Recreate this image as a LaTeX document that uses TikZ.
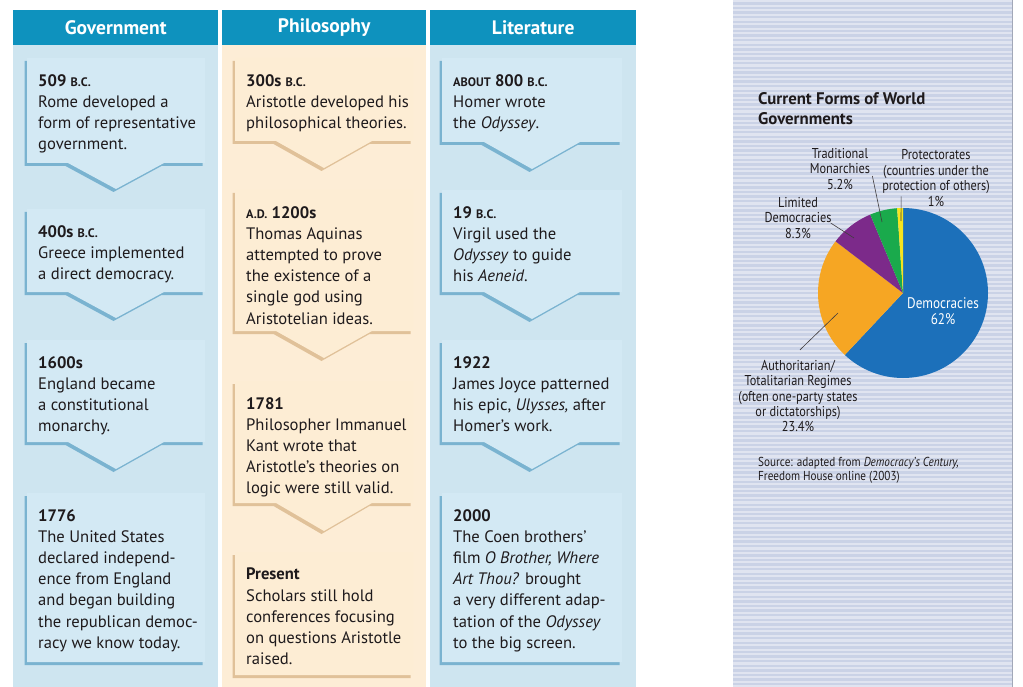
\documentclass[tikz,border=0pt]{standalone}
\usepackage{fontspec}
\setmainfont{PT Sans}
\newfontfamily\condfont[FakeStretch=0.86]{PT Sans}
\usetikzlibrary{shadows}

\definecolor{headblue}{RGB}{14,146,190}
\definecolor{govbg}{RGB}{206,229,240}
\definecolor{govbox}{RGB}{211,233,244}
\definecolor{govshade}{RGB}{40,130,178}
\definecolor{philbg}{RGB}{253,237,214}
\definecolor{philbox}{RGB}{253,237,212}
\definecolor{philshade}{RGB}{190,140,80}
\definecolor{inktext}{RGB}{30,26,28}
\definecolor{panelbg}{RGB}{202,210,230}
\definecolor{panelline}{RGB}{224,228,240}
\definecolor{demblue}{RGB}{28,112,186}
\definecolor{authorange}{RGB}{246,166,35}
\definecolor{limpurple}{RGB}{124,42,138}
\definecolor{tradgreen}{RGB}{26,170,76}
\definecolor{protyellow}{RGB}{245,228,30}

\tikzset{
  colhead/.style={fill=headblue, text=white, inner sep=0pt, font=\bfseries\fontsize{19.5}{22}\selectfont},
  govevent/.style={fill=govbox, drop shadow={shadow xshift=-2.5pt, shadow yshift=-3pt, fill=govshade, opacity=0.5}},
  philevent/.style={fill=philbox, drop shadow={shadow xshift=-2.5pt, shadow yshift=-3pt, fill=philshade, opacity=0.45}},
  eventtext/.style={anchor=north west, inner sep=0pt, align=left, text=inktext, font=\fontsize{16.6}{21.2}\selectfont},
  pielabel/.style={align=center, text=inktext, inner sep=0pt, font=\condfont\fontsize{14.3}{15.4}\selectfont},
  leader/.style={draw=inktext!85, line width=0.6pt}
}

% small capitals for B.C. / A.D. / ABOUT
\newcommand{\smcap}[1]{{\fontsize{12.3}{12}\selectfont #1}}

% event box with a notch pointing down: style, left, top, right, bottom, notch depth
\newcommand{\eventbox}[6]{%
  \pgfmathsetmacro{\midx}{(#2+#4)/2}
  \path[#1] (#2,#3) -- (#4,#3) -- (#4,#5) -- (\midx+48,#5) -- (\midx,#5+#6)
    -- (\midx-48,#5) -- (#2,#5) -- cycle;
}

\begin{document}
\begin{tikzpicture}[x=1pt,y=-1pt]
\useasboundingbox (0,0) rectangle (1023,687);

% Columns
\fill[govbg] (13,45) rectangle (218,687);
\fill[philbg] (222,45) rectangle (426,687);
\fill[govbg] (430,45) rectangle (636,687);

\node[colhead, minimum width=205pt, minimum height=35pt, anchor=north west] (hgov) at (13,10) {Government};
\node[colhead, minimum width=204pt, minimum height=35pt, anchor=north west] (hphil) at (222,10) {Philosophy};
\node[colhead, minimum width=206pt, minimum height=35pt, anchor=north west] (hlit) at (430,10) {Literature};

% Government
\eventbox{govevent}{27}{58}{205}{163}{26}
\eventbox{govevent}{27}{209}{205}{292}{26}
\eventbox{govevent}{27}{340}{205}{442}{27}
\eventbox{govevent}{27}{493}{205}{662}{0}
\node[eventtext] (g1) at (38,74) {\textbf{509 \smcap{B.C.}}\\Rome developed a\\form of representative\\government.};
\node[eventtext] (g2) at (38,225) {\textbf{400s \smcap{B.C.}}\\Greece implemented\\a direct democracy.};
\node[eventtext] (g3) at (38,356) {\textbf{1600s}\\England became\\a constitutional\\monarchy.};
\node[eventtext] (g4) at (38,509) {\textbf{1776}\\The United States\\declared independ-\\ence from England\\and began building\\the republican democ-\\racy we know today.};

% Philosophy
\eventbox{philevent}{235}{58}{413}{141}{27}
\eventbox{philevent}{235}{190}{413}{331}{27}
\eventbox{philevent}{235}{381}{413}{503}{28}
\eventbox{philevent}{235}{552}{413}{675}{0}
\node[eventtext] (p1) at (246,74) {\textbf{300s \smcap{B.C.}}\\Aristotle developed his\\philosophical theories.};
\node[eventtext] (p2) at (246,206) {\textbf{\smcap{A.D.} 1200s}\\Thomas Aquinas\\attempted to prove\\the existence of a\\single god using\\Aristotelian ideas.};
\node[eventtext] (p3) at (246,397) {\textbf{1781}\\Philosopher Immanuel\\Kant wrote that\\Aristotle’s theories on\\logic were still valid.};
\node[eventtext] (p4) at (246,568) {\textbf{Present}\\Scholars still hold\\conferences focusing\\on questions Aristotle\\raised.};

% Literature
\eventbox{govevent}{442}{58}{622}{142}{27}
\eventbox{govevent}{442}{190}{622}{292}{27}
\eventbox{govevent}{442}{340}{622}{442}{27}
\eventbox{govevent}{442}{493}{622}{662}{0}
\node[eventtext] (l1) at (453,74) {\textbf{\smcap{ABOUT} 800 \smcap{B.C.}}\\Homer wrote\\the \textit{Odyssey}.};
\node[eventtext] (l2) at (453,206) {\textbf{19 \smcap{B.C.}}\\Virgil used the\\\textit{Odyssey} to guide\\his \textit{Aeneid}.};
\node[eventtext] (l3) at (453,356) {\textbf{1922}\\James Joyce patterned\\his epic, \textit{Ulysses,} after\\Homer’s work.};
\node[eventtext] (l4) at (453,509) {\textbf{2000}\\The Coen brothers’\\film \textit{O Brother, Where}\\\textit{Art Thou?} brought\\a very different adap-\\tation of the \textit{Odyssey}\\to the big screen.};

% Side panel
\fill[panelbg] (733,0) rectangle (1012,687);
\foreach \yy in {0,4.6,...,687}
  \fill[panelline] (733,\yy) rectangle (1012,\yy+2.2);
\draw[panelbg!80!black, line width=0.8pt] (1012,0) -- (1012,687);

\node[anchor=north west, inner sep=0pt, align=left, text=inktext, font=\bfseries\fontsize{16.8}{20}\selectfont] (charttitle) at (758,92) {Current Forms of World\\Governments};

% Pie
\begin{scope}[shift={(903,293)}, yscale=-1]
  \fill[demblue] (0,0) -- (90:85) arc[start angle=90, end angle=-133.2, radius=85] -- cycle;
  \fill[authorange] (0,0) -- (-133.2:85) arc[start angle=-133.2, end angle=-217.44, radius=85] -- cycle;
  \fill[limpurple] (0,0) -- (-217.44:85) arc[start angle=-217.44, end angle=-247.32, radius=85] -- cycle;
  \fill[tradgreen] (0,0) -- (-247.32:85) arc[start angle=-247.32, end angle=-266.04, radius=85] -- cycle;
  \fill[protyellow] (0,0) -- (-266.04:85) arc[start angle=-266.04, end angle=-270, radius=85] -- cycle;
\end{scope}

\node[pielabel, text=white, font=\condfont\fontsize{15.3}{16}\selectfont] (demlbl) at (943,311) {Democracies\\62\%};
\node[pielabel] (authlbl) at (798,396) {Authoritarian/\\Totalitarian Regimes\\(often one-party states\\or dictatorships)\\23.4\%};
\node[pielabel] (limlbl) at (798,218) {Limited\\Democracies\\8.3\%};
\node[pielabel] (tradlbl) at (840,169) {Traditional\\Monarchies\\5.2\%};
\node[pielabel] (protlbl) at (936,178) {Protectorates\\(countries under the\\protection of others)\\1\%};

\coordinate (authpt) at (838,313);
\coordinate (limpt) at (854,238);
\coordinate (tradpt) at (882,222);
\coordinate (protpt) at (901,221);
\draw[leader] ([shift={(2,-10)}]authlbl.north) -- (authpt);
\draw[leader] ([shift={(-1,5)}]limlbl.east) -- (limpt);
\draw[leader] ([shift={(2,7)}]tradlbl.east) -- (tradpt);
\draw[leader] ([shift={(19,-10)}]protlbl.south west) -- (protpt);

\node[anchor=north west, inner sep=0pt, align=left, text=inktext, font=\condfont\fontsize{13}{14}\selectfont] (source) at (758,457) {Source: adapted from \textit{Democracy’s Century,}\\Freedom House online (2003)};
\end{tikzpicture}
\end{document}
